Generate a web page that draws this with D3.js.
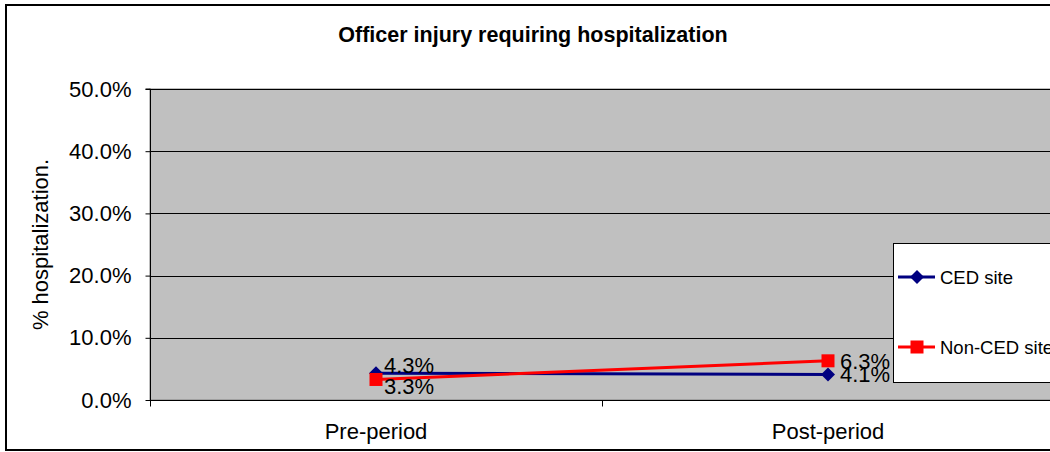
<!DOCTYPE html>
<html>
<head>
<meta charset="utf-8">
<script src="https://cdn.jsdelivr.net/npm/d3@7"></script>
<style>
  html, body { margin: 0; padding: 0; background: #fff; overflow: hidden; }
  text { font-family: "Liberation Sans", Arial, sans-serif; }
</style>
</head>
<body>
<svg id="chart" width="1050" height="452"></svg>
<script>
// ---- data ----
const title = "Officer injury requiring hospitalization";
const yAxisTitle = "% hospitalization.";
const categories = ["Pre-period", "Post-period"];
const cedValues = [0.043, 0.041];
const nonCedValues = [0.033, 0.063];
const seriesNames = ["CED site", "Non-CED site"];
const yTicks = [0, 0.1, 0.2, 0.3, 0.4, 0.5];

const series = [
  { name: seriesNames[0], values: cedValues, color: "#000080", marker: "diamond" },
  { name: seriesNames[1], values: nonCedValues, color: "#FF0000", marker: "square" }
];

const svg = d3.select("#chart");

// outer chart border
svg.append("rect")
  .attr("x", 6).attr("y", 5).attr("width", 1100).attr("height", 445)
  .attr("fill", "#fff").attr("stroke", "#000").attr("stroke-width", 2);

const plot = { left: 150, top: 89, right: 1054, bottom: 400 };

const x = d3.scaleBand().domain(categories).range([plot.left, plot.right]);
const y = d3.scaleLinear().domain([0, 0.5]).range([plot.bottom, plot.top]);

// plot area
svg.append("rect")
  .attr("x", plot.left).attr("y", plot.top)
  .attr("width", plot.right - plot.left).attr("height", plot.bottom - plot.top)
  .attr("fill", "#C0C0C0").attr("stroke", "#808080").attr("stroke-width", 1);

// gridlines
svg.append("g").selectAll("line").data(yTicks.filter(d => d > 0))
  .join("line")
  .attr("x1", plot.left).attr("x2", plot.right)
  .attr("y1", d => Math.round(y(d)) + 0.5).attr("y2", d => Math.round(y(d)) + 0.5)
  .attr("stroke", "#000").attr("stroke-width", 1);

// y axis
const yAxis = d3.axisLeft(y).tickValues(yTicks).tickFormat(d3.format(".1%"))
  .tickSize(5).tickPadding(14);
const gy = svg.append("g").attr("transform", `translate(${plot.left + 0.5},0)`).call(yAxis);
gy.select(".domain").attr("stroke", "#000").attr("d", `M-5,${y(0.5)}H0V${y(0)}`);
gy.selectAll(".tick line").attr("stroke", "#000");
gy.selectAll(".tick text").attr("font-size", 22).attr("fill", "#000")
  .attr("font-family", "Liberation Sans, Arial, sans-serif");

// x axis
const gx = svg.append("g").attr("transform", `translate(0,${plot.bottom + 0.5})`);
gx.append("line").attr("x1", plot.left).attr("x2", plot.right).attr("y1", 0).attr("y2", 0)
  .attr("stroke", "#000");
const boundaries = [plot.left, ...categories.slice(1).map(c => x(c)), plot.right];
gx.selectAll("line.tk").data(boundaries).join("line").attr("class", "tk")
  .attr("x1", d => Math.round(d) + 0.5).attr("x2", d => Math.round(d) + 0.5)
  .attr("y1", 0).attr("y2", 6).attr("stroke", "#000");
gx.selectAll("text").data(categories).join("text")
  .attr("x", d => x(d) + x.bandwidth() / 2).attr("y", 38)
  .attr("text-anchor", "middle").attr("font-size", 22).attr("fill", "#000")
  .text(d => d);

// title
svg.append("text").attr("x", 533).attr("y", 42).attr("text-anchor", "middle")
  .attr("font-size", 21.5).attr("font-weight", "bold").text(title);

// y axis title
svg.append("text").attr("transform", `translate(48,${(plot.top + plot.bottom) / 2}) rotate(-90)`)
  .attr("text-anchor", "middle").attr("font-size", 22).text(yAxisTitle);

// marker helper
function drawMarker(g, type, cx, cy, color) {
  if (type === "diamond") {
    const r = 7;
    g.append("path").attr("d", `M${cx},${cy - r}L${cx + r},${cy}L${cx},${cy + r}L${cx - r},${cy}Z`)
      .attr("fill", color);
  } else {
    const s = 13;
    g.append("rect").attr("x", cx - s / 2).attr("y", cy - s / 2).attr("width", s).attr("height", s)
      .attr("fill", color);
  }
}

const cx = c => x(c) + x.bandwidth() / 2;
const line = d3.line().x((d, i) => cx(categories[i])).y(d => y(d));

series.forEach(s => {
  const g = svg.append("g");
  g.append("path").datum(s.values).attr("d", line)
    .attr("fill", "none").attr("stroke", s.color).attr("stroke-width", 3);
  s.values.forEach((v, i) => drawMarker(g, s.marker, cx(categories[i]), y(v), s.color));
});

// data labels (right of point, nudged apart when too close)
categories.forEach((c, i) => {
  const labs = series.map(s => ({ v: s.values[i], yy: y(s.values[i]) }));
  labs.sort((a, b) => a.yy - b.yy);
  if (labs[1].yy - labs[0].yy < 10) {
    const mid = (labs[0].yy + labs[1].yy) / 2;
    labs[0].yy = mid - 11; labs[1].yy = mid + 10;
  }
  labs.forEach(l => {
    svg.append("text").attr("x", cx(c) + (i === 0 ? 8 : 12)).attr("y", l.yy).attr("dy", "0.36em")
      .attr("font-size", 22).attr("fill", "#000").text(d3.format(".1%")(l.v));
  });
});

// legend
const lg = svg.append("g");
lg.append("rect").attr("x", 893.5).attr("y", 243.5).attr("width", 200).attr("height", 139)
  .attr("fill", "#fff").attr("stroke", "#000").attr("stroke-width", 1);
const legendY = [277, 347];
series.forEach((s, i) => {
  const ly = legendY[i];
  lg.append("line").attr("x1", 898).attr("x2", 935).attr("y1", ly).attr("y2", ly)
    .attr("stroke", s.color).attr("stroke-width", 3);
  drawMarker(lg, s.marker, 917, ly, s.color);
  lg.append("text").attr("x", 940).attr("y", ly).attr("dy", "0.36em")
    .attr("font-size", 18.5).attr("fill", "#000").text(s.name);
});
</script>
</body>
</html>
